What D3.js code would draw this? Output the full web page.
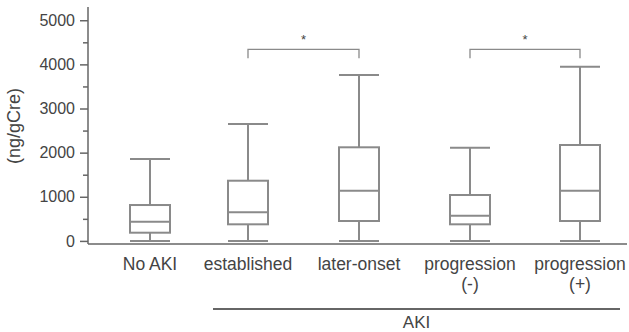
<!DOCTYPE html>
<html>
<head>
<meta charset="utf-8">
<script src="https://cdn.jsdelivr.net/npm/d3@7"></script>
<style>
  html, body { margin: 0; padding: 0; background: #fff; }
  svg { display: block; }
  text { font-family: "Liberation Sans", Arial, sans-serif; fill: #444; }
</style>
</head>
<body>
<svg id="chart" width="629" height="332"></svg>
<script>
// ---- data ----
const categories = ["No AKI", "established", "later-onset", "progression (-)", "progression (+)"];
const labelLines = [["No AKI"], ["established"], ["later-onset"], ["progression", "(-)"], ["progression", "(+)"]];
const whiskerLow  = [0, 0, 0, 0, 0];
const q1          = [186, 376, 451, 376, 451];
const median      = [435, 648, 1138, 571, 1138];
const q3          = [813, 1364, 2121, 1040, 2173];
const whiskerHigh = [1856, 2649, 3759, 2112, 3947];
const yTicks = [0, 1000, 2000, 3000, 4000, 5000];
const yMinorTicks = [500, 1500, 2500, 3500, 4500];
const comparisons = [["established", "later-onset"], ["progression (-)", "progression (+)"]];
const comparisonLevel = 4340;
const groupLabel = "AKI";
const groupMembers = ["established", "later-onset", "progression (-)", "progression (+)"];
const yTitle = "(ng/gCre)";

// ---- layout ----
const svg = d3.select("#chart");
const axisX = 88, axisBottom = 244, axisTop = 7, axisRight = 627;
const y = d3.scaleLinear().domain([-70, 5300]).range([axisBottom, axisTop]);
const x = d3.scaleOrdinal().domain(categories).range([150, 248, 359, 470, 580]);
const boxW = 40;
const boxColor = "#8a8a8a";
const axisColor = "#666";

const data = categories.map((c, i) => ({
  c, lo: whiskerLow[i], q1: q1[i], med: median[i], q3: q3[i], hi: whiskerHigh[i], lines: labelLines[i]
}));

// Y axis
const yAxis = d3.axisLeft(y).tickValues(yTicks).tickSize(8).tickPadding(5).tickFormat(d3.format("d"));
const yg = svg.append("g").attr("transform", `translate(${axisX},0)`).call(yAxis);
yg.select(".domain").remove();
yg.selectAll(".tick line").attr("stroke", axisColor).attr("stroke-width", 1.5);
yg.selectAll(".tick text").style("font-size", "16px").style("font-family", "Liberation Sans, Arial, sans-serif").attr("fill", "#444");
const yMinor = d3.axisLeft(y).tickValues(yMinorTicks).tickSize(5).tickFormat("");
const ymg = svg.append("g").attr("transform", `translate(${axisX},0)`).call(yMinor);
ymg.select(".domain").remove();
ymg.selectAll(".tick line").attr("stroke", axisColor).attr("stroke-width", 1.5);

svg.append("line").attr("x1", axisX).attr("x2", axisX).attr("y1", axisTop).attr("y2", axisBottom)
  .attr("stroke", axisColor).attr("stroke-width", 1.5);
svg.append("line").attr("x1", axisX).attr("x2", axisRight).attr("y1", axisBottom).attr("y2", axisBottom)
  .attr("stroke", axisColor).attr("stroke-width", 1.5);

// Y title
svg.append("text")
  .attr("transform", `translate(20,126) rotate(-90)`)
  .attr("text-anchor", "middle")
  .style("font-size", "18px")
  .text(yTitle);

// Boxes
const g = svg.append("g").attr("fill", "none").attr("stroke", boxColor).attr("stroke-width", 2);
data.forEach(d => {
  const cx = x(d.c);
  g.append("line").attr("x1", cx).attr("x2", cx).attr("y1", y(d.hi)).attr("y2", y(d.q3));
  g.append("line").attr("x1", cx).attr("x2", cx).attr("y1", y(d.q1)).attr("y2", y(d.lo));
  g.append("line").attr("x1", cx - boxW / 2).attr("x2", cx + boxW / 2).attr("y1", y(d.hi)).attr("y2", y(d.hi));
  g.append("line").attr("x1", cx - boxW / 2).attr("x2", cx + boxW / 2).attr("y1", y(d.lo)).attr("y2", y(d.lo));
  g.append("rect").attr("x", cx - boxW / 2).attr("width", boxW)
    .attr("y", y(d.q3)).attr("height", y(d.q1) - y(d.q3));
  g.append("line").attr("x1", cx - boxW / 2).attr("x2", cx + boxW / 2).attr("y1", y(d.med)).attr("y2", y(d.med));
});

// X labels (each line as its own text)
data.forEach(d => {
  d.lines.forEach((ln, k) => {
    svg.append("text").attr("text-anchor", "middle")
      .style("font-size", "17.5px")
      .attr("x", x(d.c)).attr("y", 270 + k * 20)
      .text(ln);
  });
});

// Comparison brackets
comparisons.forEach(([a, b]) => {
  const x1 = x(a), x2 = x(b), yy = y(comparisonLevel);
  svg.append("path")
    .attr("d", `M${x1},${yy + 9}V${yy}H${x2}V${yy + 9}`)
    .attr("fill", "none").attr("stroke", boxColor).attr("stroke-width", 1.3);
  svg.append("text").attr("x", (x1 + x2) / 2).attr("y", yy - 5)
    .attr("text-anchor", "middle").style("font-size", "13px").attr("fill", "#333").text("*");
});

// Group line
const gx1 = x(groupMembers[0]) - 35, gx2 = x(groupMembers[groupMembers.length - 1]) + 40;
svg.append("line").attr("x1", gx1).attr("x2", gx2).attr("y1", 309).attr("y2", 309)
  .attr("stroke", axisColor).attr("stroke-width", 1.8);
svg.append("text").attr("x", (gx1 + gx2) / 2).attr("y", 328).attr("text-anchor", "middle")
  .style("font-size", "17px").text(groupLabel);
</script>
</body>
</html>
